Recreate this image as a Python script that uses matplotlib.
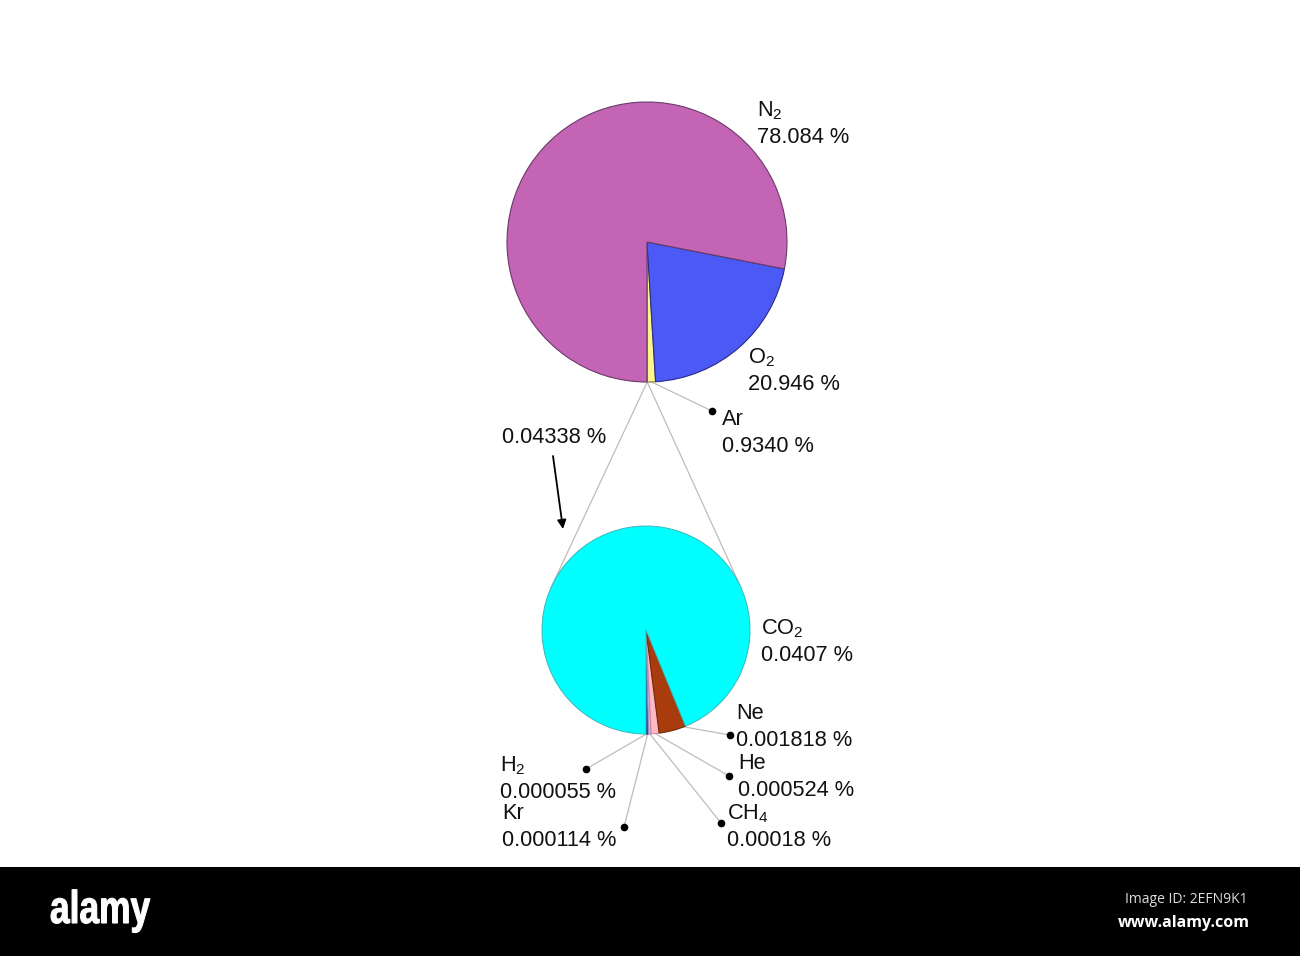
import numpy as np
import matplotlib
matplotlib.use("Agg")
import matplotlib.pyplot as plt
from matplotlib.patches import Rectangle, PathPatch
from matplotlib.textpath import TextPath
from matplotlib.font_manager import FontProperties
from matplotlib.transforms import Affine2D

plt.rcParams["font.family"] = ["Liberation Sans", "DejaVu Sans"]
plt.rcParams["mathtext.fontset"] = "custom"
plt.rcParams["mathtext.rm"] = "Liberation Sans"
plt.rcParams["mathtext.it"] = "Liberation Sans"

# ---------------- data ----------------
main_names = ["Others", "Ar", "O$_{2}$", "N$_{2}$"]
main_values = [0.04338, 0.9340, 20.946, 78.084]
main_value_text = ["0.04338 %", "0.9340 %", "20.946 %", "78.084 %"]
main_colors = ["#F4F4F4", "#FFF58A", "#4B5AF5", "#C464B4"]
main_edges = ["#BBBBBB", "#8A7A40", "#2A2A8A", "#6A3A6A"]

minor_names = ["H$_{2}$", "Kr", "CH$_{4}$", "He", "Ne", "CO$_{2}$"]
minor_values = [0.000055, 0.000114, 0.00018, 0.000524, 0.001818, 0.0407]
minor_value_text = ["0.000055 %", "0.000114 %", "0.00018 %", "0.000524 %",
                    "0.001818 %", "0.0407 %"]
minor_colors = ["#1C1C8C", "#4848C8", "#C8B4E8", "#FFB8C4", "#A83C0C", "#00FFFF"]
minor_edges = ["#10105A", "#30309A", "#9A88BA", "#D08898", "#6A2406", "#3AB8B8"]

# ---------------- figure ----------------
W, H = 1300, 956
fig = plt.figure(figsize=(W / 100, H / 100), dpi=100)
ax = fig.add_axes([0, 0, 1, 1])


def Y(py):
    return H - py


c1 = np.array([647.0, Y(242)])
r1 = 140.0
c2 = np.array([646.0, Y(630)])
r2 = 104.0

w1, _ = ax.pie(main_values, colors=main_colors, startangle=-90, counterclock=True,
               center=tuple(c1), radius=r1,
               wedgeprops=dict(linewidth=0.8))
for w, ec in zip(w1, main_edges):
    w.set_edgecolor(ec)

w2, _ = ax.pie(minor_values, colors=minor_colors, startangle=-90, counterclock=True,
               center=tuple(c2), radius=r2,
               wedgeprops=dict(linewidth=0.7))
for w, ec in zip(w2, minor_edges):
    w.set_edgecolor(ec)


def arc_point(c, r, ang):
    a = np.deg2rad(ang)
    return c + r * np.array([np.cos(a), np.sin(a)])


def mid(w):
    return 0.5 * (w.theta1 + w.theta2)


GRAY = "#BDBDBD"

# zoom lines from the "others" slice to the tangent points of the small pie
P = arc_point(c1, r1, mid(w1[0]))
d = c2 - P
dist = np.hypot(*d)
alpha = np.arcsin(r2 / dist)
L = np.sqrt(dist ** 2 - r2 ** 2)
phi = np.arctan2(d[1], d[0])
for s in (-1, 1):
    T = P + L * np.array([np.cos(phi + s * alpha), np.sin(phi + s * alpha)])
    ax.plot([P[0], T[0]], [P[1], T[1]], color=GRAY, lw=0.9, zorder=0.5)

TXT = "#111111"
FS = 15.7


def label(x, ybase, name, value, ha="left"):
    ax.text(x, Y(ybase - 27), name, fontsize=FS, color=TXT, ha=ha, va="baseline")
    ax.text(x, Y(ybase), value, fontsize=FS, color=TXT, ha=ha, va="baseline")


# top pie labels
label(757, 143, main_names[3], main_value_text[3])
label(748, 390, main_names[2], main_value_text[2])
label(722, 452, main_names[1], main_value_text[1])

# Ar leader line
S = arc_point(c1, r1, mid(w1[1]))
dot = np.array([712, Y(411)])
ax.plot([S[0], dot[0]], [S[1], dot[1]], color=GRAY, lw=0.9, zorder=0.5)
ax.plot(dot[0], dot[1], "o", color="black", ms=4.5, zorder=3)

# total of minor gases + arrow
ax.text(502, Y(443), main_value_text[0], fontsize=FS, color=TXT, ha="left", va="baseline")
ax.annotate("", xy=(563, Y(529)), xytext=(553, Y(456)),
            arrowprops=dict(arrowstyle="-|>", color="black", lw=1.3,
                            mutation_scale=13, shrinkA=0, shrinkB=0))

# small pie labels: (text x, value baseline, dot x, dot y)
minor_layout = [
    (500, 798, 586, 769),   # H2
    (502, 846, 624, 827),   # Kr
    (727, 846, 721, 823),   # CH4
    (738, 796, 729, 776),   # He
    (736, 746, 730, 735),   # Ne
]
for i, (tx, tb, dx, dy) in enumerate(minor_layout):
    w = w2[i]
    ang = w.theta2 - 1.0 if i == 4 else mid(w)
    S = arc_point(c2, r2, ang)
    ax.plot([S[0], dx], [S[1], Y(dy)], color=GRAY, lw=0.9, zorder=0.5)
    ax.plot(dx, Y(dy), "o", color="black", ms=4.5, zorder=3)
    label(tx, tb, minor_names[i], minor_value_text[i])

label(761, 661, minor_names[5], minor_value_text[5])

ax.set_xlim(0, W)
ax.set_ylim(0, H)
ax.set_aspect("equal")
ax.axis("off")

# bottom black band
ax.add_patch(Rectangle((0, 0), W, H - 867, facecolor="black", edgecolor="none", zorder=5))
tp = TextPath((0, 0), "alamy", size=46,
              prop=FontProperties(family="Liberation Sans", weight="bold"))
bb = tp.get_extents()
sx = (150 - 51) / bb.width
tr = Affine2D().translate(-bb.x0, 0).scale(sx, 1.0).translate(51, Y(923))
ax.add_patch(PathPatch(tr.transform_path(tp), facecolor="white", edgecolor="white",
                       linewidth=0.8, zorder=6))
ax.text(1248, Y(903), "Image ID: 2EFN9K1", fontsize=10, color="#DDDDDD",
        family=["Open Sans", "DejaVu Sans"], ha="right", va="baseline", zorder=6)
ax.text(1250, Y(927), "www.alamy.com", fontsize=11.5, color="white", weight="bold",
        family=["Open Sans", "DejaVu Sans"], ha="right", va="baseline", zorder=6)

fig.savefig("out.png", dpi=100, facecolor="white")
